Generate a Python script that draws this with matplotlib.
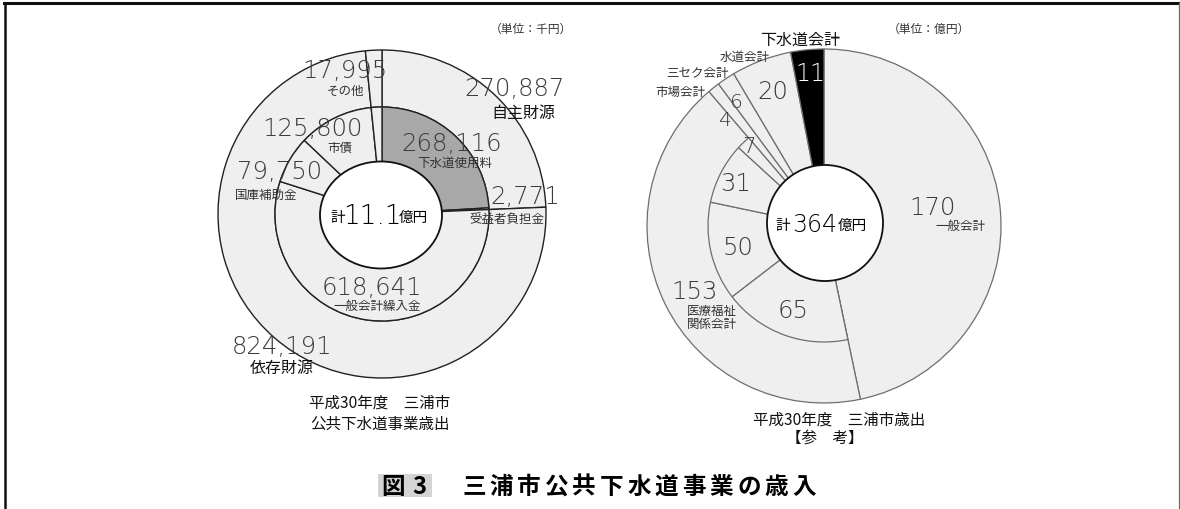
import matplotlib
matplotlib.use('Agg')
import matplotlib.pyplot as plt
from matplotlib.patches import Ellipse, Circle, Rectangle
from matplotlib.lines import Line2D

plt.rcParams['font.family'] = ['Noto Sans CJK JP', 'DejaVu Sans']

# ─── DATA ───────────────────────────────────────────────────────────────────────
# 左: 公共下水道事業歳入 (千円)
outer_names = ['自主財源', '依存財源', 'その他']
outer_vals = [270887, 824191, 17995]
inner_names = ['下水道使用料', '受益者負担金', '一般会計繰入金', '国庫補助金', '市債', 'その他']
inner_vals = [268116, 2771, 618641, 79750, 125800, 17995]
left_total = '11.1'

# 右: 三浦市歳出 (億円)
acc_names = ['一般会計', '医療福祉\n関係会計', '市場会計', '三セク会計', '水道会計', '下水道会計']
acc_vals = [170, 153, 4, 6, 20, 11]
med_vals = [65, 50, 31, 7]   # 医療福祉関係会計の内訳
right_total = '364'

W, H = 1180, 510
def Y(y):
    return H - y

LIGHT = '#efefef'
NUMC = '#3c3c3c'
NUMFONT = ['DejaVu Sans', 'Noto Sans CJK JP']

fig = plt.figure(figsize=(11.8, 5.1), dpi=100)
ax = fig.add_axes([0, 0, 1, 1])

# ─── 左ドーナツ ───
lc = (382, Y(215))
ax.pie(outer_vals, center=lc, radius=164, startangle=90, counterclock=False, frame=True,
       colors=[LIGHT] * 3, wedgeprops=dict(width=57, edgecolor='#222', linewidth=1.0))
ax.pie(inner_vals, center=lc, radius=107, startangle=90, counterclock=False, frame=True,
       colors=['#a8a8a8'] + [LIGHT] * 5, wedgeprops=dict(width=57, edgecolor='#222', linewidth=1.0))
ax.add_patch(Ellipse((381, Y(216)), 122, 107, facecolor='white', edgecolor='#111', linewidth=1.3, zorder=5))

def num(x, y, s, size=17.5, color=NUMC, **kw):
    ax.text(x, Y(y), s, fontsize=size, color=color, ha='center', va='center',
            family=NUMFONT, fontweight='light', zorder=6, **kw)

def lab(x, y, s, size=9, color='#333', **kw):
    ax.text(x, Y(y), s, fontsize=size, color=color, ha='center', va='center', zorder=6, **kw)

lpos_outer = [(514, 89, 523, 113), (282, 347, 282, 368), (345, 71, 345, 91)]
for (nx, ny, tx, ty), name, v in zip(lpos_outer, outer_names, outer_vals):
    num(nx, ny, f'{v:,}')
    if name == 'その他':
        lab(tx, ty, name)
    else:
        lab(tx, ty, name, size=11.5, color='#111')

lpos_inner = [(452, 144, 455, 163), (525, 197, 507, 219), (372, 288, 377, 306),
              (280, 172, 266, 195), (312, 129, 340, 148)]
for (nx, ny, tx, ty), name, v in zip(lpos_inner, inner_names[:5], inner_vals[:5]):
    num(nx, ny, f'{v:,}')
    lab(tx, ty, name)

ax.text(345, Y(218), '計', fontsize=10.5, ha='right', va='center', zorder=6)
ax.text(372, Y(217), left_total, fontsize=19, ha='center', va='center', family=NUMFONT, fontweight='light', zorder=6)
ax.text(399, Y(218), '億円', fontsize=10.5, ha='left', va='center', zorder=6)

lab(531, 29, '（単位：千円）', size=8.5, color='#333')
lab(380, 403, '平成30年度　三浦市', size=11.2, color='#111')
lab(380, 424, '公共下水道事業歳出', size=11.2, color='#111')

# ─── 右ドーナツ ───
rc = (824, Y(227))
ax.pie(acc_vals, center=rc, radius=177, startangle=90, counterclock=False, frame=True,
       colors=[LIGHT] * 5 + ['black'], wedgeprops=dict(width=122, edgecolor='#6e6e6e', linewidth=0.9))
sub_vals = [acc_vals[0]] + med_vals + [sum(acc_vals[2:])]
sub, _ = ax.pie(sub_vals, center=rc, radius=116, startangle=90, counterclock=False, frame=True,
                colors=[LIGHT] * len(sub_vals), wedgeprops=dict(width=61, edgecolor='#6e6e6e', linewidth=0.9))
sub[0].set_visible(False)
sub[-1].set_visible(False)
ax.add_patch(Circle((825, Y(224)), 58, facecolor='white', edgecolor='#111', linewidth=1.3, zorder=5))

rpos_acc = [(932, 208), (694, 292), (725, 120), (736, 103), (773, 92), (810, 74)]
rsize_acc = [17.5, 17.5, 14.5, 14.5, 17.5, 17]
for (x, y), v, s in zip(rpos_acc, acc_vals, rsize_acc):
    num(x, y, str(v), size=s, color='white' if v == acc_vals[-1] else NUMC)

lab(960, 226, acc_names[0])
lab(712, 318, acc_names[1], linespacing=1.0)
lab(680, 92, acc_names[2])
lab(697, 73, acc_names[3])
lab(745, 57, acc_names[4])
lab(800, 40, acc_names[5], size=11.5, color='#111')

rpos_med = [(793, 311), (738, 248), (736, 184), (749, 147)]
for (x, y), v in zip(rpos_med, med_vals):
    num(x, y, str(v), size=15.5 if v < 10 else 17.5)

ax.text(790, Y(226), '計', fontsize=10.5, ha='right', va='center', zorder=6)
ax.text(815, Y(225), right_total, fontsize=17, ha='center', va='center', family=NUMFONT, fontweight='light', zorder=6)
ax.text(838, Y(226), '億円', fontsize=10.5, ha='left', va='center', zorder=6)

lab(929, 29, '（単位：億円）', size=8.5, color='#333')
lab(839, 420, '平成30年度　三浦市歳出', size=11.2, color='#111')
lab(825, 438, '【参　考】', size=11.2, color='#111')

# ─── タイトル ───
ax.add_patch(Rectangle((378, Y(498)), 54, 23, facecolor='#d4d4d4', edgecolor='none', zorder=1))
ax.text(393, Y(487), '図', fontsize=17, fontweight='bold', ha='center', va='center', zorder=6)
ax.text(419, Y(487), '3', fontsize=17, fontweight='bold', ha='center', va='center', zorder=6)
title = '三浦市公共下水道事業の歳入'
for i, ch in enumerate(title):
    ax.text(474 + i * 27.5, Y(487), ch, fontsize=17, fontweight='bold', ha='center', va='center', zorder=6)

ax.set_xlim(0, W)
ax.set_ylim(0, H)
ax.set_aspect('equal')
ax.axis('off')

# 枠線
fig.add_artist(Line2D([4 / W, 1179 / W], [1 - 4 / H, 1 - 4 / H], color='#111', linewidth=2.2))
fig.add_artist(Line2D([5 / W, 5 / W], [0, 1 - 4 / H], color='#111', linewidth=1.8))
fig.add_artist(Line2D([1178.5 / W, 1178.5 / W], [0, 1 - 4 / H], color='#666', linewidth=0.9))

plt.savefig('out.png', dpi=100)
